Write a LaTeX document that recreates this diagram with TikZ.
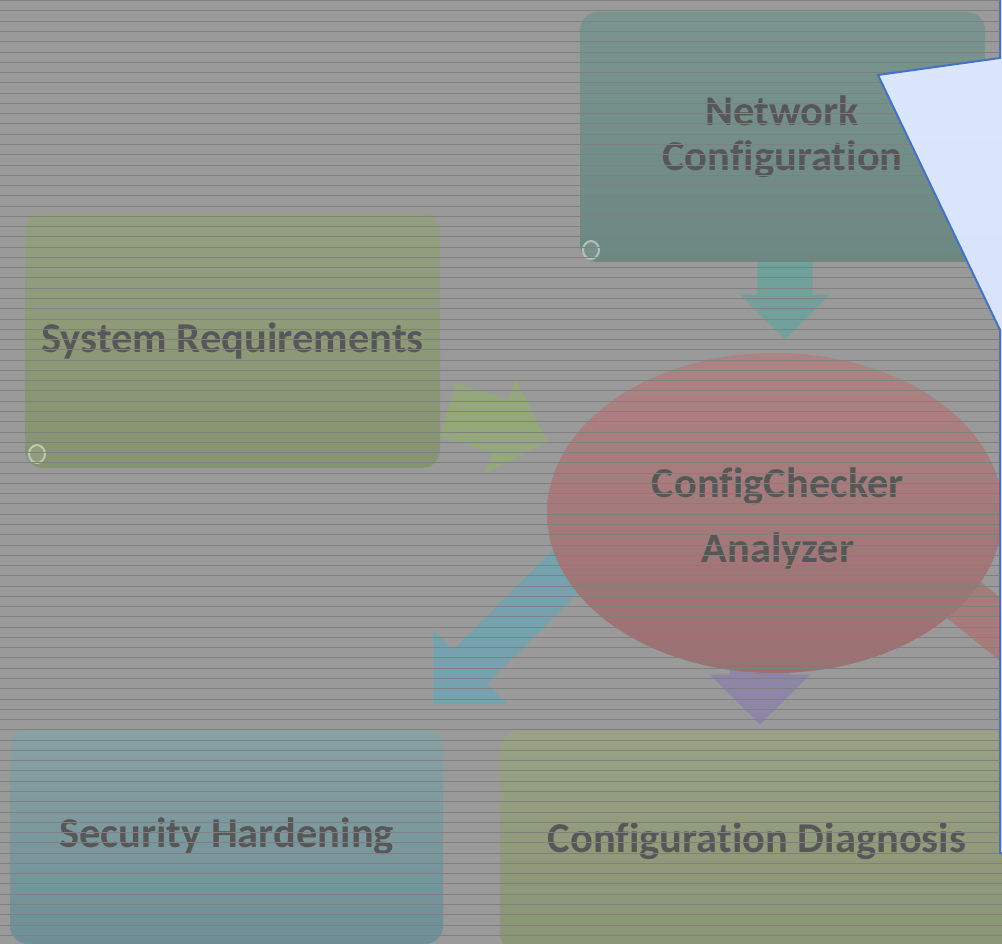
\documentclass[tikz,border=0pt]{standalone}
\usepackage{fontspec}
\setmainfont{Carlito}[Ligatures=NoCommon]
\usetikzlibrary{shapes.arrows,shapes.geometric}

\definecolor{bg}{HTML}{9A9A9A}
\definecolor{stripe}{HTML}{808080}
\definecolor{txt}{HTML}{575757}
\definecolor{netTop}{HTML}{7A958F}
\definecolor{netBot}{HTML}{6C8882}
\definecolor{reqTop}{HTML}{939F7F}
\definecolor{reqBot}{HTML}{879470}
\definecolor{secTop}{HTML}{88A1A4}
\definecolor{secBot}{HTML}{6E8F97}
\definecolor{diaTop}{HTML}{99A285}
\definecolor{diaBot}{HTML}{8A9574}
\definecolor{ellTop}{HTML}{AD8383}
\definecolor{ellBot}{HTML}{9A7070}
\definecolor{tealArrow}{HTML}{72A09A}
\definecolor{greenArrow}{HTML}{95A87B}
\definecolor{blueArrow}{HTML}{76A2AF}
\definecolor{purpleArrow}{HTML}{8E86A6}
\definecolor{redArrow}{HTML}{A87B7B}
\definecolor{calloutTop}{HTML}{DCE7FC}
\definecolor{calloutBot}{HTML}{CEDEF8}
\definecolor{calloutEdge}{HTML}{4472C4}

\begin{document}
\begin{tikzpicture}[x=1pt,y=-1pt,
  label font/.style={font=\bfseries\fontsize{42.5}{45}\selectfont, text=txt},
  box/.style={rounded corners=18pt, inner sep=0pt, align=center, label font},
  blockarrow/.style={single arrow, inner sep=0pt, single arrow tip angle=90, anchor=tip},
  stripeline/.style={draw=stripe, line width=1pt},
  curl/.style={draw=white, draw opacity=0.45, line width=2pt, fill=white, fill opacity=0.08}]

\useasboundingbox (0,0) rectangle (1002,944);
\fill[bg] (0,0) rectangle (1002,944);

% block arrows, placed by their tips, drawn beneath the shapes they join
\node[blockarrow, fill=tealArrow, inner ysep=27.5pt, single arrow head extend=17.5pt,
      minimum height=80pt, rotate=-90] (aNet) at (785,340) {};
\node[blockarrow, fill=greenArrow, inner ysep=27.5pt, single arrow head extend=22.5pt,
      minimum height=105pt, rotate=-18] (aReq) at (548,442) {};
\node[blockarrow, fill=blueArrow, inner ysep=24pt, single arrow head extend=28pt,
      minimum height=200pt, rotate=225] (aSec) at (433,704) {};
\node[blockarrow, fill=purpleArrow, inner ysep=30pt, single arrow head extend=20pt,
      minimum height=100pt, rotate=-90] (aDia) at (760,725) {};
\node[blockarrow, fill=redArrow, inner ysep=24.5pt, single arrow head extend=27.5pt,
      minimum height=260pt, rotate=-39] (aOut) at (1080,694) {};

% process boxes
\node[box, top color=netTop, bottom color=netBot, minimum width=405pt, minimum height=250pt]
  (net) at (782.5,137) {Network\\Configuration};
\node[box, top color=reqTop, bottom color=reqBot, minimum width=415pt, minimum height=255pt]
  (req) at (232.5,340.5) {System Requirements};
\node[box, top color=secTop, bottom color=secBot, minimum width=433pt, minimum height=215pt]
  (sec) at (226.5,836.5) {Security Hardening};
\node[box, top color=diaTop, bottom color=diaBot, minimum width=514pt, minimum height=220pt]
  (dia) at (757,841) {Configuration Diagnosis};

% rolled corners
\draw[curl] (591,250) ellipse (8pt and 9pt);
\draw[curl] (37,454) ellipse (8pt and 9pt);

% central analyzer
\node[ellipse, top color=ellTop, bottom color=ellBot, minimum width=456pt, minimum height=320pt,
      inner sep=0pt] (core) at (775,513) {};
\node[align=center, inner sep=0pt, font=\bfseries\fontsize{42.5}{65}\selectfont, text=txt]
  (coreText) at (778,518) {ConfigChecker\\Analyzer};

% horizontal line texture over the whole slide
\foreach \i in {0,...,92}
  \draw[stripeline] (0,{0.7+\i*10.27}) -- (1002,{0.7+\i*10.27});

% callout pointing at the network box
\draw[line width=2pt, draw=calloutEdge, top color=calloutTop, bottom color=calloutBot]
  (1000,-5) -- (1000,58) -- (878,75) -- (1000,330) -- (1000,853)
  -- (1012,853) -- (1012,-5) -- cycle;
\end{tikzpicture}
\end{document}
